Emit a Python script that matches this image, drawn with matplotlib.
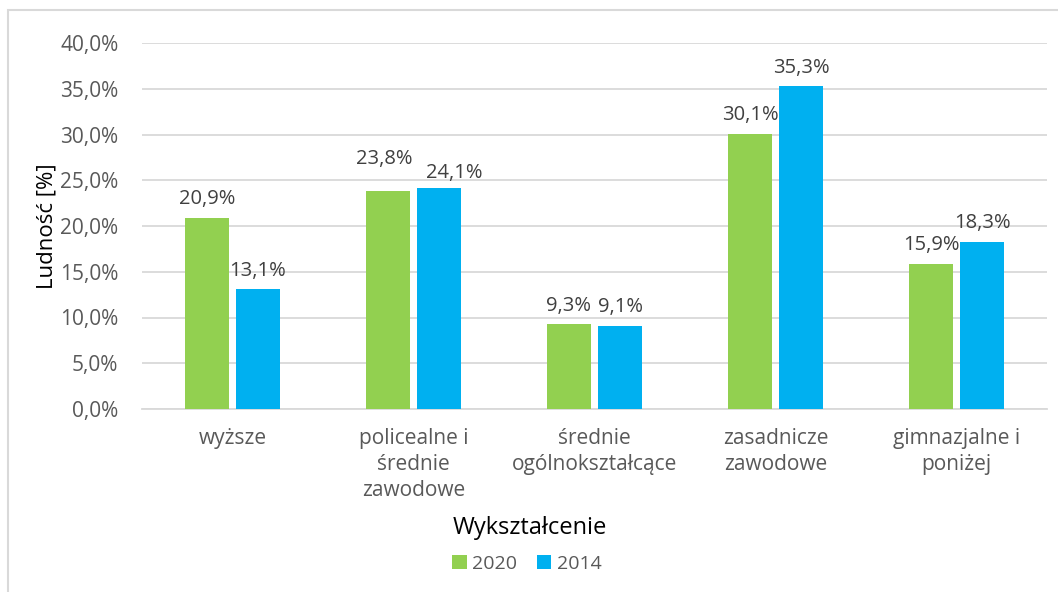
import numpy as np
import matplotlib
matplotlib.use("Agg")
import matplotlib.pyplot as plt
from matplotlib.patches import Rectangle
from matplotlib.ticker import FuncFormatter

plt.rcParams["font.family"] = ["Open Sans", "DejaVu Sans"]

categories = ["wyższe", "policealne i\nśrednie\nzawodowe", "średnie\nogólnokształcące",
              "zasadnicze\nzawodowe", "gimnazjalne i\nponiżej"]
values_2020 = [20.9, 23.8, 9.3, 30.1, 15.9]
values_2014 = [13.1, 24.1, 9.1, 35.3, 18.3]
series_names = ["2020", "2014"]

GREEN = "#92D050"
BLUE = "#00B0F0"
TICK_GRAY = "#595959"
LABEL_GRAY = "#404040"

fig = plt.figure(figsize=(10.58, 5.92), dpi=100)
ax = fig.add_axes([142 / 1058, 1 - 409 / 592, 905 / 1058, 366 / 592])

# chart border like the Excel chart area
fig.patches.append(Rectangle((8 / 1058, -0.1), 1.2, 1 - 10 / 592 + 0.1, transform=fig.transFigure,
                             fill=False, edgecolor="#D9D9D9", linewidth=1.5))

x = np.arange(len(categories))
w = 0.238
off = 0.141
b1 = ax.bar(x - off, values_2020, w, color=GREEN, label=series_names[0], zorder=3)
b2 = ax.bar(x + off, values_2014, w, color=BLUE, label=series_names[1], zorder=3)

for i in range(len(categories)):
    for rect, v, side in ((b1[i], values_2020[i], -1), (b2[i], values_2014[i], 1)):
        dx, dy = 0, 6
        # labels of neighbouring bars with almost equal height would collide - push them apart
        if abs(values_2020[i] - values_2014[i]) < 1 and v >= 10:
            dx = -3 if side < 0 else 11
            dy = 16 if side < 0 else 4
        ax.annotate(f"{v:.1f}%".replace(".", ","), (rect.get_x() + rect.get_width() / 2, v),
                    xytext=(dx, dy), textcoords="offset points", ha="center", va="bottom",
                    fontsize=14.5, color=LABEL_GRAY)

ax.set_xlim(-0.5, len(categories) - 0.5)
ax.set_ylim(0, 40)
ax.set_yticks(np.arange(0, 41, 5))
ax.yaxis.set_major_formatter(FuncFormatter(lambda v, p: f"{v:.1f}%".replace(".", ",")))
ax.grid(axis="y", color="#D9D9D9", linewidth=1.3, zorder=0)
ax.set_xticks(x)
ax.set_xticklabels(categories, fontsize=15, color=TICK_GRAY, linespacing=1.3, va="top")
ax.tick_params(axis="y", labelsize=15, labelcolor=TICK_GRAY, length=0, pad=17)
ax.tick_params(axis="x", length=0, pad=14)
for s in ("top", "right", "left"):
    ax.spines[s].set_visible(False)
ax.spines["bottom"].set_color("#D9D9D9")
ax.spines["bottom"].set_linewidth(1.3)

ax.set_ylabel("Ludność [%]", fontsize=16, color="black", labelpad=2)
fig.text(530 / 1058, 1 - 528 / 592, "Wykształcenie", ha="center", va="center", fontsize=17)

fig.legend(handles=[b1, b2], loc="center", bbox_to_anchor=(527 / 1058, 1 - 564 / 592), ncol=2,
           frameon=False, fontsize=14, labelcolor=TICK_GRAY, handlelength=0.75, handleheight=0.75,
           handletextpad=0.3, columnspacing=1.0)

fig.savefig("out.png", dpi=100)
